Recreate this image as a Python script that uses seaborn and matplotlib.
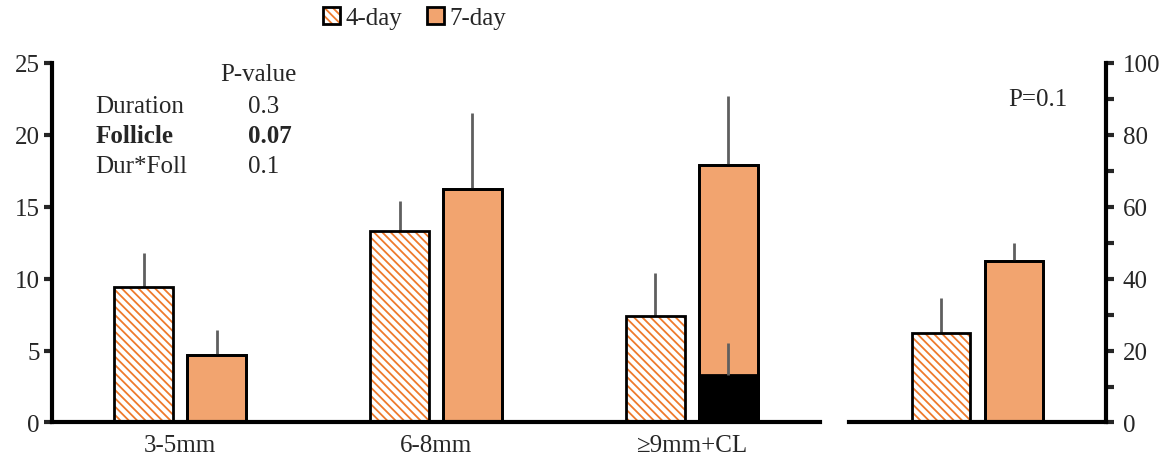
import pandas as pd
import matplotlib.pyplot as plt
import seaborn as sns
from matplotlib.patches import Patch, Rectangle
from matplotlib.ticker import MultipleLocator


# data
sizes = ["3-5mm", "6-8mm", "\u22659mm+CL"]
durations = ["4-day", "7-day"]
mean_4day = [9.4, 13.3, 7.4]
sem_4day = [2.4, 2.1, 3.0]
mean_7day = [4.7, 16.2, 17.9]
sem_7day = [1.7, 5.3, 4.8]
cl_mean = 3.3
cl_sem = 2.2

right_mean = [24.8, 45.0]
right_sem = [9.7, 4.8]

stats_rows = ["Duration", "Follicle", "Dur*Foll"]
stats_p = ["0.3", "0.07", "0.1"]


# colours
orange = "#F2A46F"
hatch_orange = "#EE7A2C"
err_grey = "#5f5f5f"

sns.set_style("white")
plt.rcParams["font.family"] = ["Liberation Serif", "DejaVu Serif"]
plt.rcParams["hatch.linewidth"] = 1.3

fig = plt.figure(figsize=(11.67, 4.64), dpi=100)
ax = fig.add_axes([0.0446, 0.0873, 0.658, 0.775])
ax2 = fig.add_axes([0.7275, 0.0873, 0.2202, 0.775])


# left panel table
df = pd.DataFrame({
    "size": sizes * 2,
    "duration": ["4-day"] * 3 + ["7-day"] * 3,
    "value": mean_4day + mean_7day,
})
sem = {"4-day": sem_4day, "7-day": sem_7day}

# right panel table
df_r = pd.DataFrame({
    "group": ["all", "all"],
    "duration": durations,
    "value": right_mean,
})
sem_r = {"4-day": [right_sem[0]], "7-day": [right_sem[1]]}


def add_err(a, bar, e, z=1):
    cx = bar.get_x() + bar.get_width() / 2
    a.errorbar(cx, bar.get_height(), yerr=[[0], [e]], fmt="none",
               ecolor=err_grey, elinewidth=2, capsize=0, zorder=z)


def style_bars(a, sems):
    # hatch 4-day, fill 7-day, black outline, upward grey error bars
    for cont, dur in zip(a.containers, durations):
        for bar, e in zip(cont, sems[dur]):
            if dur == "4-day":
                bar.set_facecolor("white")
                bar.set_edgecolor(hatch_orange)
                bar.set_hatch(r"\\\\")
                bar.set_linewidth(0)
            else:
                bar.set_facecolor(orange)
                bar.set_edgecolor("black")
                bar.set_linewidth(2)
            a.add_patch(Rectangle(bar.get_xy(), bar.get_width(), bar.get_height(),
                                  fill=False, ec="black", lw=2, zorder=3))
            add_err(a, bar, e)


sns.barplot(data=df, x="size", y="value", hue="duration", order=sizes,
            hue_order=durations, palette=[orange, orange], width=0.57, gap=0.2,
            errorbar=None, legend=False, ax=ax)
style_bars(ax, sem)

# corpus luteum part of the >=9mm 7-day bar
bar7 = ax.containers[1][2]
cl_bar = Rectangle(bar7.get_xy(), bar7.get_width(), cl_mean,
                   fc="black", ec="black", lw=2, zorder=4)
ax.add_patch(cl_bar)
add_err(ax, cl_bar, cl_sem, z=5)

sns.barplot(data=df_r, x="group", y="value", hue="duration", hue_order=durations,
            palette=[orange, orange], width=0.57, gap=0.2, errorbar=None,
            legend=False, ax=ax2)
style_bars(ax2, sem_r)


# axes styling
ax.set_xlim(-0.5, 2.5)
ax.set_ylim(0, 25)
ax.yaxis.set_major_locator(MultipleLocator(5))
ax.set_xlabel("")
ax.set_ylabel("")
for s in ["top", "right"]:
    ax.spines[s].set_visible(False)
for s in ["left", "bottom"]:
    ax.spines[s].set_linewidth(3)
    ax.spines[s].set_color("black")
ax.tick_params(axis="y", left=True, direction="out", length=6, width=3,
               labelsize=18, pad=3)
ax.tick_params(axis="x", length=0, labelsize=18, pad=8)

ax2.set_xlim(-0.5, 0.5)
ax2.set_ylim(0, 100)
ax2.yaxis.set_major_locator(MultipleLocator(20))
ax2.yaxis.set_minor_locator(MultipleLocator(10))
ax2.yaxis.tick_right()
ax2.set_xlabel("")
ax2.set_ylabel("")
ax2.set_xticks([])
for s in ["top", "left"]:
    ax2.spines[s].set_visible(False)
for s in ["right", "bottom"]:
    ax2.spines[s].set_linewidth(3)
    ax2.spines[s].set_color("black")
ax2.tick_params(axis="y", which="both", right=True, left=False, direction="out",
                length=6, width=3, labelsize=18, pad=6)


# p-value table
ax.text(0.156, 24.2, "P-value", fontsize=18, va="center", ha="left")
for i, (name, p) in enumerate(zip(stats_rows, stats_p)):
    y = 22.0 - 2.08 * i
    weight = "bold" if name == "Follicle" else "normal"
    ax.text(-0.332, y, name, fontsize=18, va="center", ha="left", fontweight=weight)
    ax.text(0.266, y, p, fontsize=18, va="center", ha="left", fontweight=weight)

ax2.text(0.234, 90, "P=0.1", fontsize=18, va="center", ha="center")


# legend
h4 = (Patch(facecolor="white", edgecolor=hatch_orange, hatch=r"\\\\", lw=0),
      Patch(facecolor="none", edgecolor="black", lw=2))
h7 = Patch(facecolor=orange, edgecolor="black", lw=2)
fig.legend([h4, h7], durations, loc="center", bbox_to_anchor=(0.355, 0.959),
           ncol=2, frameon=False, fontsize=18, handlelength=0.7, handleheight=0.7,
           handletextpad=0.2, columnspacing=1.0, borderpad=0)

plt.savefig("out.png", dpi=100)
